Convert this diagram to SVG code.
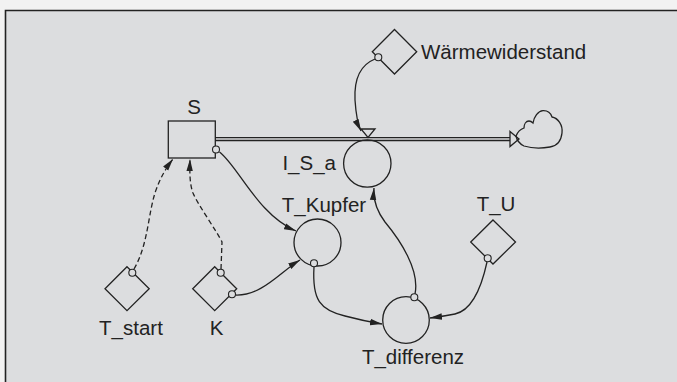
<svg xmlns="http://www.w3.org/2000/svg" width="677" height="382" viewBox="0 0 677 382">
<style>
.ln{fill:none;stroke:#222;stroke-width:1.3}
.sh{fill:none;stroke:#222;stroke-width:1.3}
.pt{fill:#dcdddf;stroke:#222;stroke-width:1.1}
.dash{stroke-dasharray:5,3}
text{font-family:"Liberation Sans",Arial,sans-serif;font-size:20.5px;fill:#222}
</style>
<defs>
<marker id="ah" viewBox="0 0 12 8" refX="12" refY="4" markerWidth="12" markerHeight="8" markerUnits="userSpaceOnUse" orient="auto">
<path d="M0,0.8 L12,4 L0,7.2 z" fill="#222"/>
</marker>
</defs>
<rect x="0" y="0" width="677" height="382" fill="#f2f2f2"/>
<rect x="5" y="10" width="680" height="380" fill="#dcdddf"/>
<path d="M5.5,382 L5.5,10.5 L677,10.5" fill="none" stroke="#222" stroke-width="1.6"/>
<g id="connectors">
<path class="ln" d="M219.5,152 C238,166 258,215 296,231" marker-end="url(#ah)"/>
<path class="ln" d="M235.5,295 C262,296 280,272 300,260" marker-end="url(#ah)"/>
<path class="ln" d="M314,267 C312,300 320,310 345,316 C360,320 370,322 382,324" marker-end="url(#ah)"/>
<path class="ln" d="M415,294 C420,270 400,240 385,222 C376,210 373,200 374,188" marker-end="url(#ah)"/>
<path class="ln" d="M487,262 C482,285 473,310 455,314 C445,316 438,317 430,318" marker-end="url(#ah)"/>
<path class="ln" d="M375,59 C360,65 354,80 355,100 C356,115 358,125 361,131" marker-end="url(#ah)"/>
<path class="ln dash" d="M134,269 C148,245 148,215 155,193 C160,178 166,168 173,159" marker-end="url(#ah)"/>
<path class="ln dash" d="M221,269 L222,242 C218,233 198,205 193,193 C190,185 189.5,175 190,159" marker-end="url(#ah)"/>
</g>
<g id="flow">
<path class="sh" d="M215,137.7 L510,137.7 M215,140.5 L510,140.5"/>
<path class="sh" d="M510,131.5 L519,139 L510,146.5 z" fill="#dcdddf"/>
<path class="sh" d="M361,129 L375,129 L368,137.5 z" fill="#dcdddf"/>
</g>
<g id="cloud">
<path class="sh" d="M516,136 C518,131 521,129 524,128 C524,124 526,121 529,121 C531,121 532,122 533,123 C534,117 538,111 543,110.7 C548,110.5 551,114 552,117 C558,118 563,125 562,133 C561,142 557,146 550,147 C542,148.5 532,148.5 524,146 C520,144 517,141 516,136 z"/>
</g>
<g id="S">
<rect class="sh" x="168.3" y="121" width="47" height="37"/>
<circle class="pt" cx="216" cy="149.5" r="3.5"/>
<text x="194" y="114" text-anchor="middle">S</text>
</g>
<g id="I_S_a">
<circle class="sh" cx="367.3" cy="163.5" r="23.7"/>
<text x="336" y="170" text-anchor="end">I_S_a</text>
</g>
<g id="Waermewiderstand">
<path class="sh" d="M394.5,29.5 L416.7,51.7 L394.5,74 L372.3,51.7 z"/>
<circle class="pt" cx="378.3" cy="57.3" r="3.5"/>
<text x="421" y="58.5">Wärmewiderstand</text>
</g>
<g id="T_Kupfer">
<circle class="sh" cx="317.5" cy="242.5" r="23.5"/>
<circle class="pt" cx="314" cy="263.3" r="3.5"/>
<text x="324" y="211.5" text-anchor="middle">T_Kupfer</text>
</g>
<g id="T_differenz">
<circle class="sh" cx="406" cy="320" r="23.3"/>
<circle class="pt" cx="414.3" cy="297.3" r="3.5"/>
<text x="413" y="363.5" text-anchor="middle">T_differenz</text>
</g>
<g id="T_U">
<path class="sh" d="M493,220 L515.5,242 L493,264 L470.7,242 z"/>
<circle class="pt" cx="487.7" cy="258.3" r="3.5"/>
<text x="496" y="210.5" text-anchor="middle">T_U</text>
</g>
<g id="T_start">
<path class="sh" d="M127,266.7 L149.2,288.7 L127,310.7 L105,288.7 z"/>
<circle class="pt" cx="132.3" cy="272.7" r="3.5"/>
<text x="131" y="335" text-anchor="middle">T_start</text>
</g>
<g id="K">
<path class="sh" d="M214.7,266.7 L236.7,288.7 L214.7,310.7 L192.7,288.7 z"/>
<circle class="pt" cx="220.7" cy="272.7" r="3.5"/>
<circle class="pt" cx="232" cy="294.3" r="3.5"/>
<text x="216.7" y="335" text-anchor="middle">K</text>
</g>
</svg>
